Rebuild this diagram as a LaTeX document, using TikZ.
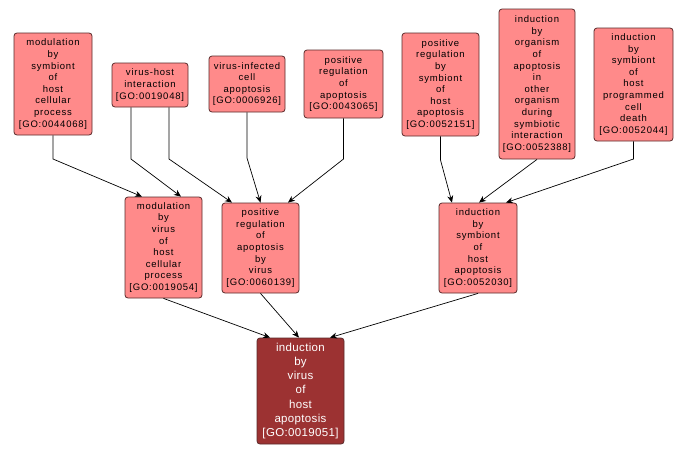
\documentclass[tikz,border=0pt]{standalone}
\usepackage{fontspec}
\newfontfamily\gofont[LetterSpace=8]{Liberation Sans}
\newfontfamily\gobig[LetterSpace=3]{Liberation Sans}
\usetikzlibrary{arrows.meta}
\definecolor{nodefill}{HTML}{FF8A8A}
\definecolor{nodeedge}{HTML}{5A2A2A}
\definecolor{rootfill}{HTML}{9C3232}
\tikzset{
  goterm/.style={draw=nodeedge, line width=0.8pt, fill=nodefill, rounded corners=3pt,
    inner sep=0pt, align=center, font=\gofont\fontsize{9.5}{11.6}\selectfont},
  rootterm/.style={goterm, fill=rootfill, text=white, font=\gobig\fontsize{11.5}{14.2}\selectfont},
  edge/.style={draw=black, line width=0.7pt, -{Stealth[length=7pt,width=6pt]}}
}
\begin{document}
\begin{tikzpicture}[x=1pt,y=-1pt]
\useasboundingbox (0,0) rectangle (688,455);
\fill[white] (0,0) rectangle (688,455);
% top row
\node[goterm, minimum width=78pt, minimum height=102pt] (n1) at (53,84) {modulation\\by\\symbiont\\of\\host\\cellular\\process\\{}[GO:0044068]};
\node[goterm, minimum width=76pt, minimum height=44pt] (n2) at (150,85) {virus-host\\interaction\\{}[GO:0019048]};
\node[goterm, minimum width=76pt, minimum height=56pt] (n3) at (247,84) {virus-infected\\cell\\apoptosis\\{}[GO:0006926]};
\node[goterm, minimum width=79pt, minimum height=68pt] (n4) at (343.5,84) {positive\\regulation\\of\\apoptosis\\{}[GO:0043065]};
\node[goterm, minimum width=77pt, minimum height=103pt] (n5) at (440.5,84.5) {positive\\regulation\\by\\symbiont\\of\\host\\apoptosis\\{}[GO:0052151]};
\node[goterm, minimum width=76pt, minimum height=150pt] (n6) at (537,84) {induction\\by\\organism\\of\\apoptosis\\in\\other\\organism\\during\\symbiotic\\interaction\\{}[GO:0052388]};
\node[goterm, minimum width=79pt, minimum height=113pt] (n7) at (633.5,84.5) {induction\\by\\symbiont\\of\\host\\programmed\\cell\\death\\{}[GO:0052044]};
% middle row
\node[goterm, minimum width=77pt, minimum height=101pt] (n8) at (163.5,247.5) {modulation\\by\\virus\\of\\host\\cellular\\process\\{}[GO:0019054]};
\node[goterm, minimum width=77pt, minimum height=90pt] (n9) at (260.5,248) {positive\\regulation\\of\\apoptosis\\by\\virus\\{}[GO:0060139]};
\node[goterm, minimum width=78pt, minimum height=90pt] (n10) at (478,248) {induction\\by\\symbiont\\of\\host\\apoptosis\\{}[GO:0052030]};
% bottom
\node[rootterm, minimum width=87pt, minimum height=106pt] (n11) at (300.5,391) {induction\\by\\virus\\of\\host\\apoptosis\\{}[GO:0019051]};
% bend points
\coordinate (b1) at (53,159);
\coordinate (b2) at (131,159);
\coordinate (b3) at (169,159);
\coordinate (b4) at (247,158);
\coordinate (b5) at (343.5,159);
\coordinate (b6) at (440.5,160);
\coordinate (b8) at (633.5,159);
% edges
\draw[edge] (n1.south) -- (b1) -- ([xshift=-21.5pt]n8.north);
\draw[edge] ([xshift=-19pt]n2.south) -- (b2) -- ([xshift=17.5pt]n8.north);
\draw[edge] ([xshift=19pt]n2.south) -- (b3) -- ([xshift=-28.5pt]n9.north);
\draw[edge] (n3.south) -- (b4) -- (n9.north);
\draw[edge] (n4.south) -- (b5) -- ([xshift=27.5pt]n9.north);
\draw[edge] (n5.south) -- (b6) -- ([xshift=-26pt]n10.north);
\draw[edge] (n6.south) -- ([xshift=1pt]n10.north);
\draw[edge] (n7.south) -- (b8) -- ([xshift=28pt]n10.north);
\draw[edge] (n8.south) -- ([xshift=-30.5pt]n11.north);
\draw[edge] (n9.south) -- ([xshift=-1.5pt]n11.north);
\draw[edge] (n10.south) -- ([xshift=29.5pt]n11.north);
\end{tikzpicture}
\end{document}
